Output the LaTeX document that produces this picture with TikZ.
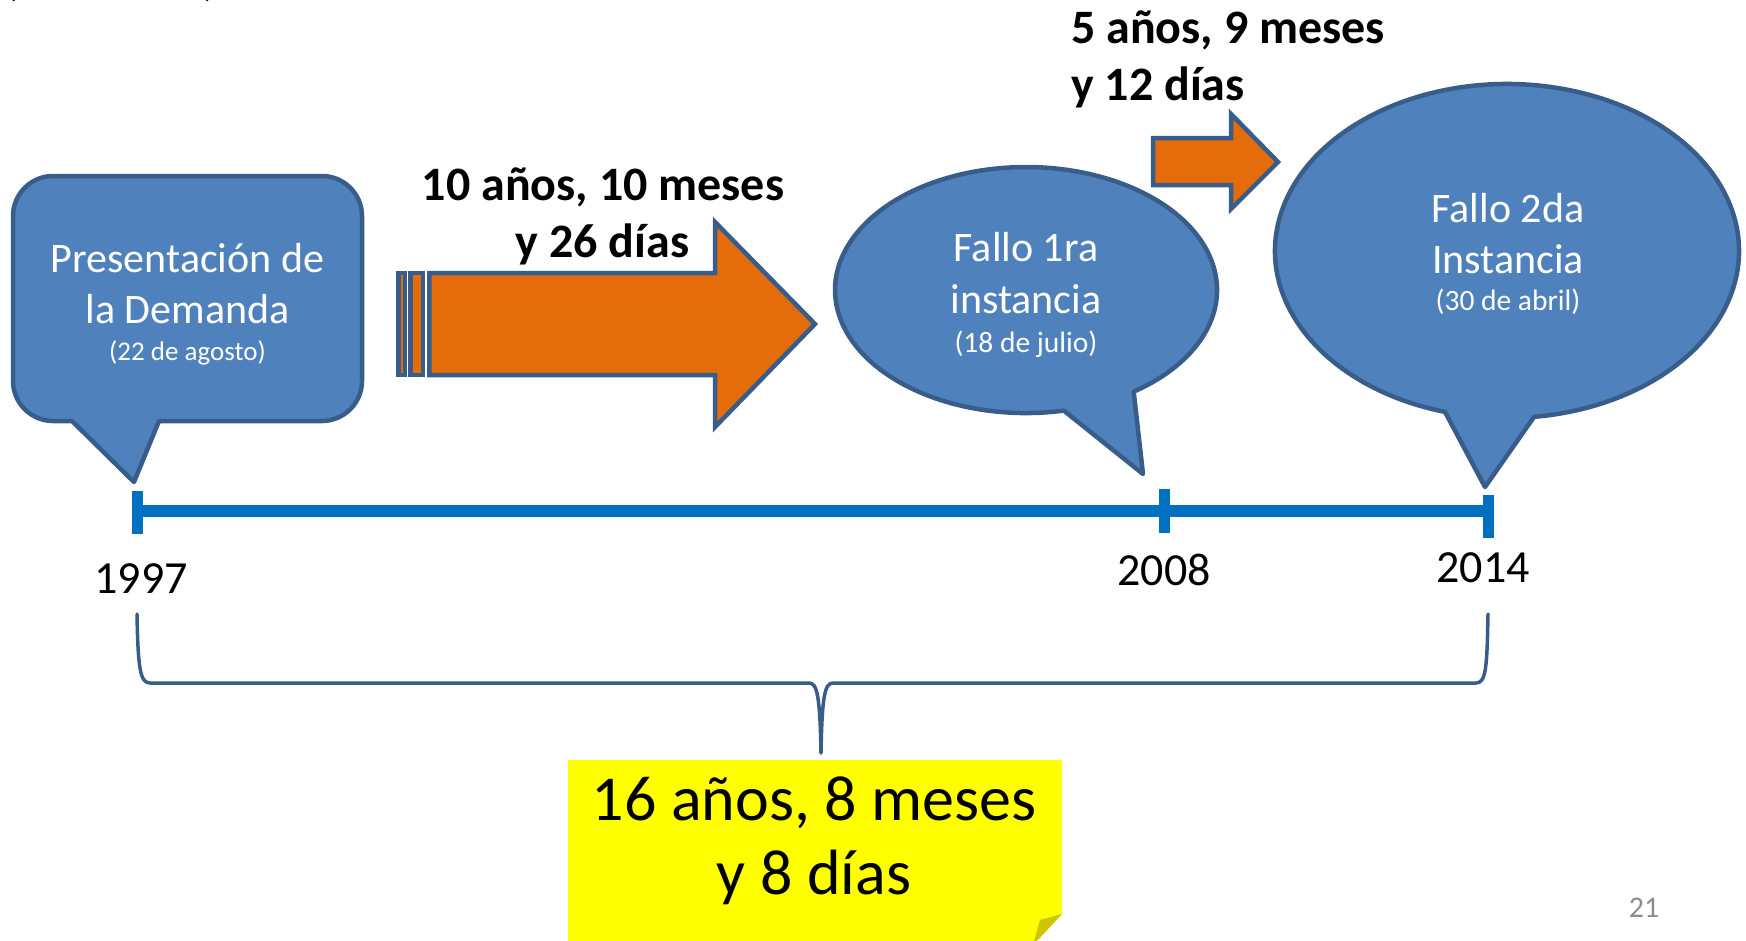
\documentclass[tikz,border=0pt]{standalone}
\usepackage{fontspec}
\setmainfont{Carlito}
\definecolor{bubfill}{HTML}{4F81BD}
\definecolor{bubline}{HTML}{385D8A}
\definecolor{arrfill}{HTML}{E46C0A}
\definecolor{tlblue}{HTML}{0070C0}
\definecolor{pgnum}{HTML}{8C8C8C}
\definecolor{foldc}{HTML}{CFC400}
\definecolor{notey}{HTML}{FFFF00}
\begin{document}
\begin{tikzpicture}[x=1pt,y=-1pt,
  bubble/.style={fill=bubfill,draw=bubline,line width=4.5pt,line join=round},
  arrowshape/.style={fill=arrfill,draw=bubline,line width=4.5pt,line join=miter},
  bigtxt/.style={text=white,font=\fontsize{42}{50}\selectfont,anchor=base,inner sep=0pt},
  smalltxt/.style={text=white,font=\fontsize{27}{32}\selectfont,anchor=base,inner sep=0pt},
  ovalsmall/.style={text=white,font=\fontsize{29.5}{35}\selectfont,anchor=base,inner sep=0pt},
  boldtxt/.style={font=\fontsize{48}{57}\selectfont\bfseries,anchor=base,inner sep=0pt},
  boldleft/.style={boldtxt,anchor=base west},
  yeartxt/.style={font=\fontsize{46}{55}\selectfont,anchor=base,inner sep=0pt},
  notetxt/.style={font=\fontsize{64}{76}\selectfont,anchor=base,inner sep=0pt},
  pgtxt/.style={text=pgnum,font=\fontsize{30}{36}\selectfont,anchor=base,inner sep=0pt},
  tline/.style={draw=tlblue,line width=12pt},
  tick/.style={draw=tlblue,line width=11pt},
  bracestyle/.style={draw=bubline,line width=3.5pt,line cap=round,line join=round}
]
\useasboundingbox (0,0) rectangle (1746,940);
\clip (0,0) rectangle (1746,940);

% cut-off heading (only parenthesis tails visible)
\node[yeartxt] (parl) at (11,-5) {(};
\node[yeartxt] (parr) at (210,-5) {)};

% left rounded callout
\draw[bubble] (13,216) .. controls (13,194) and (31,176) .. (53,176) -- (322,176)
  .. controls (344,176) and (362,194) .. (362,216) -- (362,381)
  .. controls (362,403) and (344,421) .. (322,421) -- (159,421) -- (134,482) -- (72,421) -- (53,421)
  .. controls (31,421) and (13,403) .. (13,381) -- cycle;
\node[bigtxt] (pres1) at (187.5,272) {Presentación de};
\node[bigtxt] (pres2) at (187.5,323) {la Demanda};
\node[smalltxt] (pres3) at (187.5,360) {(22 de agosto)};

% big arrow with stripes
\draw[arrowshape] (398.25,273) rectangle (404.75,375);
\draw[arrowshape] (410.25,273) rectangle (422.75,375);
\draw[arrowshape] (429.25,273) -- (715,273) -- (715,222) -- (815,324) -- (715,427) -- (715,375) -- (429.25,375) -- cycle;
\node[boldtxt] (d1a) at (603,200) {10 años, 10 meses};
\node[boldtxt] (d1b) at (602.5,257) {y 26 días};

% oval callout 1
\draw[bubble] (1143,474) -- (1063.8,410.6) arc[start angle=78.6, end angle=415.7, x radius=191, y radius=123] -- cycle;
\node[bigtxt] (f1a) at (1026,261) {Fallo 1ra};
\node[bigtxt] (f1b) at (1026,313) {instancia};
\node[ovalsmall] (f1c) at (1026,352) {(18 de julio)};

% small arrow
\draw[arrowshape] (1153,138) -- (1231,138) -- (1231,114) -- (1278,162) -- (1231,209) -- (1231,185) -- (1153,185) -- cycle;
\node[boldleft] (d2a) at (1071,43) {5 años, 9 meses};
\node[boldleft] (d2b) at (1071,100) {y 12 días};

% oval callout 2
\draw[bubble] (1485,487) -- (1445.0,411.9) arc[start angle=105.5, end angle=443.3, x radius=232, y radius=167] -- cycle;
\node[bigtxt] (f2a) at (1508,222) {Fallo 2da};
\node[bigtxt] (f2b) at (1508,273) {Instancia};
\node[ovalsmall] (f2c) at (1508,310) {(30 de abril)};

% timeline
\coordinate (t97) at (137.5,511);
\coordinate (t08) at (1164,511);
\coordinate (t14) at (1488,511);
\draw[tline] (t97) -- (t14);
\draw[tick] (137.5,491) -- (137.5,534);
\draw[tick] (1164,489) -- (1164,533);
\draw[tick] (1488,495) -- (1488,538);
\node[yeartxt] (y97) at (141,593) {1997};
\node[yeartxt] (y08) at (1164,585) {2008};
\node[yeartxt] (y14) at (1483,582) {2014};

% brace
\draw[bracestyle] (137,614) .. controls (138,668) and (140,683) .. (150,683) -- (809,683)
  .. controls (817,683) and (820,695) .. (821,753)
  .. controls (822,695) and (825,683) .. (833,683) -- (1476,683)
  .. controls (1486,683) and (1487,668) .. (1488,614);

% sticky note
\fill[notey] (568,760) -- (1062,760) -- (1062,914) -- (1033,945) -- (568,945) -- cycle;
\fill[foldc] (1062,914) -- (1040,920) -- (1033,945) -- cycle;
\node[notetxt] (tot1) at (814,820) {16 años, 8 meses};
\node[notetxt] (tot2) at (814,894) {y 8 días};

% page number
\node[pgtxt] (pg) at (1644,917) {21};
\end{tikzpicture}
\end{document}
